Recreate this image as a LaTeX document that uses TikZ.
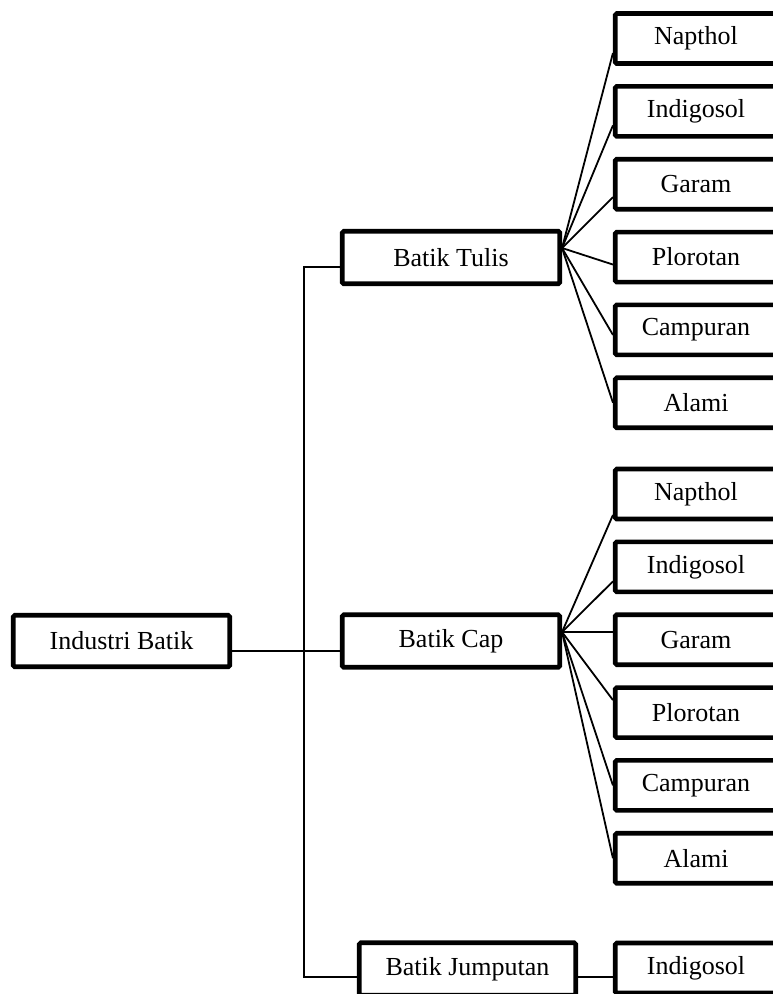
\documentclass[tikz,border=0pt]{standalone}
\usepackage{fontspec}
\setmainfont{Liberation Serif}
\usetikzlibrary{positioning}
\tikzset{
  btk/.style={font=\fontsize{26}{30}\selectfont, text=black},
  btkbox/.style={draw=black, line width=4.6pt, rounded corners=1.5pt, fill=white,
    align=center, inner sep=0pt, minimum height=52.5pt, minimum width=217.5pt},
  btkleaf/.style={btkbox, minimum height=50pt, minimum width=161.5pt},
  btkline/.style={line width=1.8pt, draw=black},
}

\begin{document}
\begin{tikzpicture}[btk, x=1pt, y=-1pt, node distance=18.25pt]
  \useasboundingbox (0,0) rectangle (773,994);
  % main levels
  \node[btkbox, minimum width=216.5pt, minimum height=51.5pt] (industri) at (121.5,641) {Industri Batik};
  \node[btkbox] (tulis) at (451,257.5) {Batik Tulis};
  \node[btkbox] (cap) at (451,641) {Batik Cap};
  \node[btkbox, minimum width=216.5pt] (jumputan) at (467.5,969) {Batik Jumputan};
  % dyes, batik tulis
  \node[btkleaf] (tnapthol) at (696,38.5) {Napthol};
  \node[btkleaf, below=of tnapthol] (tindigo) {Indigosol};
  \node[btkleaf, below=of tindigo] (tgaram) {Garam};
  \node[btkleaf, below=of tgaram] (tploro) {Plorotan};
  \node[btkleaf, below=of tploro] (tcampur) {Campuran};
  \node[btkleaf, below=of tcampur] (talami) {Alami};
  % dyes, batik cap
  \node[btkleaf] (cnapthol) at (696,494) {Napthol};
  \node[btkleaf, below=of cnapthol] (cindigo) {Indigosol};
  \node[btkleaf, below=of cindigo] (cgaram) {Garam};
  \node[btkleaf, below=of cgaram] (cploro) {Plorotan};
  \node[btkleaf, below=of cploro] (ccampur) {Campuran};
  \node[btkleaf, below=of ccampur] (calami) {Alami};
  % dye, batik jumputan
  \node[btkleaf] (jindigo) at (696,968) {Indigosol};
  % tree lines
  \draw[btkline] ([yshift=-10pt]industri.east) -- ([yshift=-10pt]industri.east -| cap.west);
  \draw[btkline] ([yshift=-9.5pt]tulis.west) -- ++(-36,0) |- ([yshift=-8pt]jumputan.west);
  \draw[btkline] ([yshift=-8pt]jumputan.east) -- ([yshift=-8pt]jumputan.east -| jindigo.west);
  % fan of batik tulis
  \draw[btkline] ([yshift=9.5pt]tulis.east) -- ([yshift=-14.5pt]tnapthol.west);
  \draw[btkline] ([yshift=9.5pt]tulis.east) -- ([yshift=-14pt]tindigo.west);
  \draw[btkline] ([yshift=9.5pt]tulis.east) -- ([yshift=-13pt]tgaram.west);
  \draw[btkline] ([yshift=9.5pt]tulis.east) -- ([yshift=-7.5pt]tploro.west);
  \draw[btkline] ([yshift=9.5pt]tulis.east) -- ([yshift=-5pt]tcampur.west);
  \draw[btkline] ([yshift=9.5pt]tulis.east) -- (talami.west);
  % fan of batik cap
  \draw[btkline] ([yshift=9pt]cap.east) -- ([yshift=-21pt]cnapthol.west);
  \draw[btkline] ([yshift=9pt]cap.east) -- ([yshift=-14.5pt]cindigo.west);
  \draw[btkline] ([yshift=9pt]cap.east) -- ([yshift=9pt]cap.east -| cgaram.west);
  \draw[btkline] ([yshift=9pt]cap.east) -- ([yshift=12.5pt]cploro.west);
  \draw[btkline] ([yshift=9pt]cap.east) -- (ccampur.west);
  \draw[btkline] ([yshift=9pt]cap.east) -- (calami.west);
\end{tikzpicture}
\end{document}
